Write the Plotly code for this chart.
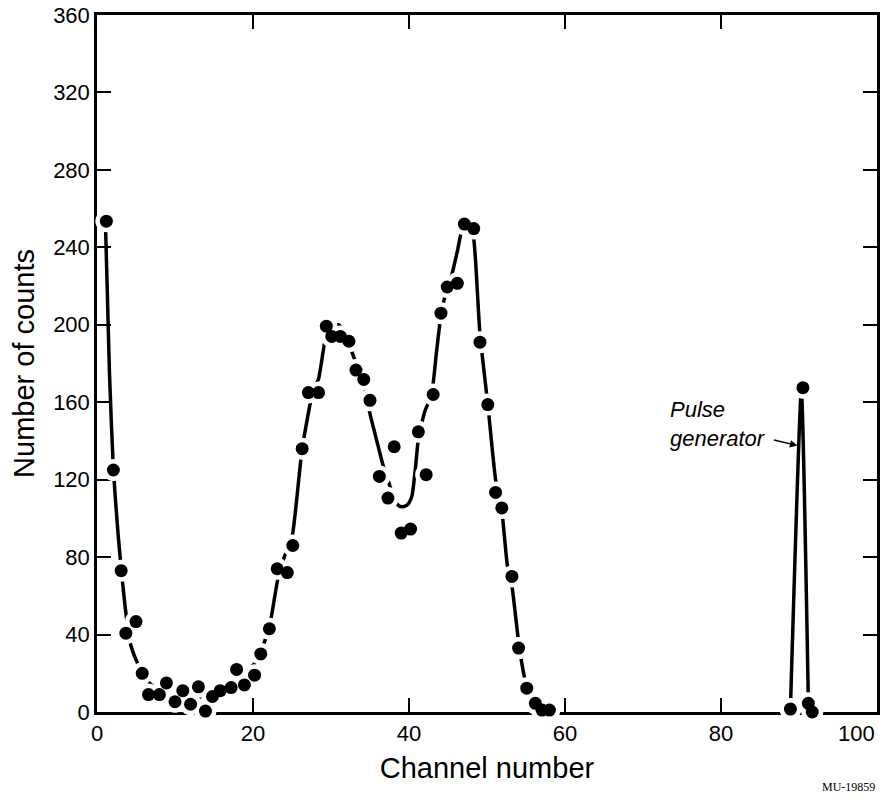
import plotly.graph_objects as go

# measured counts per channel (dots)
channel = [1.2, 2.1, 3.1, 3.7, 5.0, 5.8, 6.6, 8.0, 8.9, 10.0, 11.0, 12.0, 13.0, 13.9, 14.8,
           15.8, 17.2, 17.9, 18.9, 20.2, 21.0, 22.1, 23.1, 24.4, 25.1, 26.3, 27.1, 28.4,
           29.4, 30.1, 31.2, 32.3, 33.2, 34.2, 35.0, 36.2, 37.3, 38.1, 39.0, 40.2, 41.2,
           42.2, 43.1, 44.1, 44.9, 46.2, 47.1, 48.3, 49.1, 50.1, 51.1, 51.9, 53.2, 54.05,
           55.1, 56.2, 57.05, 58.0, 88.9, 90.5, 91.2, 91.7]
counts = [253.5, 125, 73, 40.7, 46.7, 20, 9, 9, 15, 5.3, 11, 4, 13, 0.5, 8,
          11, 12.6, 22, 14, 19, 30, 43, 74, 72, 86, 136, 165, 165,
          199.3, 194, 194, 191.5, 176.6, 171.8, 161, 121.7, 110.5, 137, 92.4, 94.5, 144.7,
          122.6, 164, 206, 219.5, 221.4, 252, 249.7, 191, 158.8, 113.4, 105.4, 70, 33,
          12.3, 4.5, 1, 1, 1.5, 167.5, 4.5, 0]

# hand-drawn smooth curve through the spectrum
curve_x = [1.1, 1.6, 2.1, 2.7, 3.2, 3.8, 4.3, 5.0, 5.6, 6.5, 7.3, 8.5, 9.5, 11.0, 12.5,
           13.5, 15.0, 16.5, 18.0, 19.4, 20.2, 21.0, 22.1, 22.6, 23.1, 24.0, 25.0, 26.3,
           27.7, 28.4, 29.3, 30.0, 31.0, 32.0, 32.6, 33.3, 34.0, 34.4, 35.0, 36.0, 36.7,
           37.2, 37.6, 38.2, 38.7, 39.1, 39.6, 40.0, 40.4, 40.8, 41.2, 42.0, 42.9, 43.5,
           44.1, 44.9, 45.5, 46.2, 46.8, 47.5, 48.1, 48.5, 49.1, 50.1, 51.1, 51.9, 52.6,
           53.2, 54.0, 54.6, 55.1, 55.7, 56.3, 57.0, 58.0]
curve_y = [250, 175, 125, 92, 70, 48, 35, 27, 22, 16, 13, 10.5, 9, 8, 7.5,
           8, 10, 13, 17, 22, 25, 31, 44, 55, 67, 80, 90, 136,
           166, 172, 193, 199, 200, 194, 187, 179, 172, 166, 154, 138, 127,
           121, 116, 109, 106.5, 106, 106.5, 108, 112, 125, 141, 155, 164, 185,
           205, 219, 226, 238, 249, 252, 250, 235, 195, 159, 120, 104, 76,
           65, 38, 22, 13, 7, 3.5, 1.2, 0.5]

pulse_x = [88.9, 90.3, 91.2]
pulse_y = [1.5, 166, 4.5]

x_ticks = [0, 20, 40, 60, 80, 100]
x_labels = ["0", "20", "40", "60", "80", ""]   # "100" is drawn right-aligned below
y_ticks = [0, 40, 80, 120, 160, 200, 240, 280, 320, 360]

font = "Liberation Sans, Arial, sans-serif"

fig = go.Figure()
for cx, cy in [(curve_x, curve_y), (pulse_x, pulse_y)]:
    fig.add_trace(go.Scatter(
        x=cx, y=cy, mode="lines", line=dict(color="black", width=3.5, shape="spline", smoothing=0.5),
        hoverinfo="skip", showlegend=False,
    ))
# white halo so the curve breaks around each dot
fig.add_trace(go.Scatter(
    x=channel, y=counts, mode="markers", marker=dict(color="white", size=22),
    cliponaxis=False, hoverinfo="skip", showlegend=False,
))
fig.add_trace(go.Scatter(
    x=channel, y=counts, mode="markers", marker=dict(color="black", size=13),
    cliponaxis=False, showlegend=False,
))

fig.add_annotation(
    x=x_ticks[-1], y=0, xref="x", yref="y", text=str(x_ticks[-1]), showarrow=False,
    xanchor="right", yanchor="middle", yshift=-21,
    font=dict(family=font, size=22, color="black"),
)
fig.add_annotation(
    x=73.2, y=148.5, xref="x", yref="y", text="<i>Pulse<br>generator</i>",
    showarrow=False, xanchor="left", yanchor="middle", align="left",
    font=dict(family=font, size=22, color="black"),
)
fig.add_annotation(
    x=89.8, y=137.6, ax=86.6, ay=140.7, xref="x", yref="y", axref="x", ayref="y",
    text="", showarrow=True, arrowhead=2, arrowsize=1, arrowwidth=1.5, arrowcolor="black",
)
fig.add_annotation(
    x=1.0, y=-0.108, xref="paper", yref="paper", text="MU-19859", showarrow=False,
    xanchor="right", yanchor="middle",
    font=dict(family="Liberation Serif, serif", size=12, color="black"),
)

axis_common = dict(
    showgrid=False, zeroline=False, showline=True, linecolor="black", linewidth=2.5,
    mirror="ticks", ticks="inside", ticklen=14, tickwidth=2, tickcolor="black",
    layer="below traces", automargin=False, ticklabeloverflow="allow",
    tickfont=dict(family=font, size=22, color="black"),
)
fig.update_xaxes(
    range=[0, 100], tickvals=x_ticks, ticktext=x_labels,
    title=dict(text="Channel number", font=dict(family=font, size=29, color="black"), standoff=13),
    **axis_common,
)
fig.update_yaxes(
    range=[0, 360], tickvals=y_ticks,
    title=dict(text="Number of counts", font=dict(family=font, size=29, color="black"), standoff=11),
    **axis_common,
)
# the page body adds an 8px margin, so the figure is 8px smaller on each side
fig.update_layout(
    width=880, height=795,
    margin=dict(l=89, r=11, t=7, b=91),
    plot_bgcolor="white", paper_bgcolor="white",
)

fig.write_html("out.html")
